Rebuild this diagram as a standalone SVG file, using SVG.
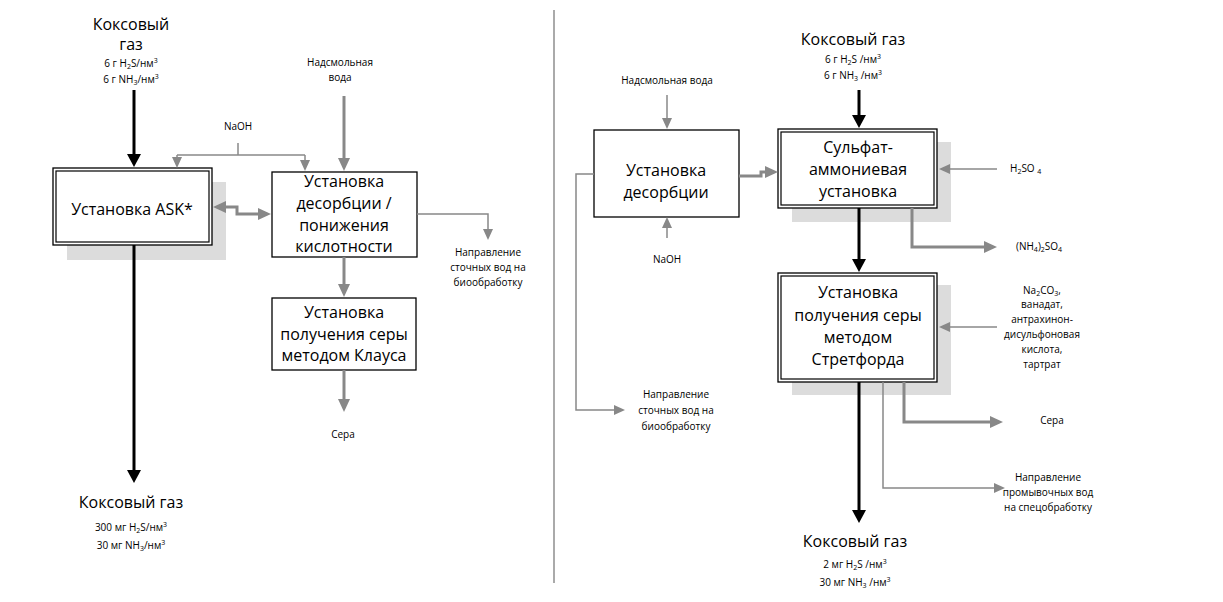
<svg xmlns="http://www.w3.org/2000/svg" width="1223" height="602" viewBox="0 0 1223 602">
<style>
text{font-family:"Open Sans","Noto Sans",sans-serif;fill:#000;text-anchor:middle}
.b{font-size:16px}
.s{font-size:10px}
.st{text-anchor:start}
.sb{font-size:7px}
.box{fill:#fff;stroke:#000;stroke-width:1.3}
.in{fill:none;stroke:#000;stroke-width:1.2}
.sh{fill:#dcdcdc}
.k{fill:none;stroke:#000;stroke-width:3}
.g{fill:none;stroke:#888;stroke-width:3}
.t{fill:none;stroke:#888;stroke-width:1.5}
</style>
<defs>
<marker id="mk" viewBox="0 0 13 14" refX="8" refY="7" markerWidth="13" markerHeight="14" markerUnits="userSpaceOnUse" orient="auto"><path d="M0,0 L13,7 L0,14 z" fill="#000"/></marker>
<marker id="mg" viewBox="0 0 13 12" refX="8" refY="6" markerWidth="13" markerHeight="12" markerUnits="userSpaceOnUse" orient="auto-start-reverse"><path d="M0,0 L13,6 L0,12 z" fill="#888"/></marker>
<marker id="mt" viewBox="0 0 11 10" refX="6" refY="5" markerWidth="11" markerHeight="10" markerUnits="userSpaceOnUse" orient="auto"><path d="M0,0 L11,5 L0,10 z" fill="#888"/></marker>
</defs>

<line x1="554" y1="10" x2="554" y2="583" stroke="#aaa" stroke-width="2"/>

<g id="left-gas-in">
<text class="b" x="131" y="30">Коксовый</text>
<text class="b" x="131" y="50">газ</text>
<text class="s" x="131" y="67">6 г H<tspan class="sb" dy="2">2</tspan><tspan dy="-2">S/нм</tspan><tspan class="sb" dy="-4">3</tspan></text>
<text class="s" x="131" y="83">6 г NH<tspan class="sb" dy="2">3</tspan><tspan dy="-2">/нм</tspan><tspan class="sb" dy="-4">3</tspan></text>
</g>

<g id="ask">
<rect class="sh" x="67" y="182" width="159" height="78"/>
<rect class="box" x="53" y="168" width="159" height="77"/>
<rect class="in" x="56" y="171" width="153" height="71"/>
<text class="b" x="132" y="215">Установка ASK*</text>
</g>

<g id="naoh-left"><text class="s" x="238" y="130">NaOH</text></g>

<g id="tar-water-left">
<text class="s" x="340" y="66">Надсмольная</text>
<text class="s" x="340" y="81">вода</text>
</g>

<g id="desorption-left">
<rect class="box" x="272" y="172" width="145" height="85"/>
<text class="b" x="344" y="187">Установка</text>
<text class="b" x="344" y="209">десорбции /</text>
<text class="b" x="344" y="231">понижения</text>
<text class="b" x="344" y="252">кислотности</text>
</g>

<g id="waste-left">
<text class="s" x="488" y="256">Направление</text>
<text class="s" x="488" y="271">сточных вод на</text>
<text class="s" x="488" y="286">биообработку</text>
</g>

<g id="claus">
<rect class="box" x="272" y="298" width="144" height="72"/>
<text class="b" x="344" y="318">Установка</text>
<text class="b" x="344" y="340">получения серы</text>
<text class="b" x="344" y="361">методом Клауса</text>
</g>

<g id="sulfur-left"><text class="s" x="343" y="438">Сера</text></g>

<g id="left-gas-out">
<text class="b" x="131" y="508">Коксовый газ</text>
<text class="s" x="131" y="531">300 мг H<tspan class="sb" dy="2">2</tspan><tspan dy="-2">S/нм</tspan><tspan class="sb" dy="-4">3</tspan></text>
<text class="s" x="131" y="549">30 мг NH<tspan class="sb" dy="2">3</tspan><tspan dy="-2">/нм</tspan><tspan class="sb" dy="-4">3</tspan></text>
</g>

<g id="right-gas-in">
<text class="b" x="853" y="45">Коксовый газ</text>
<text class="s" x="853" y="63">6 г H<tspan class="sb" dy="2">2</tspan><tspan dy="-2">S /нм</tspan><tspan class="sb" dy="-4">3</tspan></text>
<text class="s" x="853" y="79">6 г NH<tspan class="sb" dy="2">3</tspan><tspan dy="-2"> /нм</tspan><tspan class="sb" dy="-4">3</tspan></text>
</g>

<g id="tar-water-right"><text class="s" x="667" y="84">Надсмольная вода</text></g>

<g id="desorption-right">
<rect class="box" x="594" y="130" width="145" height="87"/>
<text class="b" x="666" y="176">Установка</text>
<text class="b" x="666" y="198">десорбции</text>
</g>

<g id="naoh-right"><text class="s" x="667" y="263">NaOH</text></g>

<g id="waste-right">
<text class="s" x="676" y="398">Направление</text>
<text class="s" x="676" y="414">сточных вод на</text>
<text class="s" x="676" y="430">биообработку</text>
</g>

<g id="sulfate">
<rect class="sh" x="792" y="142" width="159" height="80"/>
<rect class="box" x="778" y="129" width="159" height="79"/>
<rect class="in" x="781" y="132" width="153" height="73"/>
<text class="b" x="858" y="153">Сульфат-</text>
<text class="b" x="858" y="175">аммониевая</text>
<text class="b" x="858" y="197">установка</text>
</g>

<g id="h2so4"><text class="s st" x="1010" y="172">H<tspan class="sb" dy="2">2</tspan><tspan dy="-2">SO </tspan><tspan class="sb" dy="2">4</tspan></text></g>

<g id="ammonium-sulfate"><text class="s st" x="1016" y="250">(NH<tspan class="sb" dy="2">4</tspan><tspan dy="-2">)</tspan><tspan class="sb" dy="2">2</tspan><tspan dy="-2">SO</tspan><tspan class="sb" dy="2">4</tspan></text></g>

<g id="stretford">
<rect class="sh" x="792" y="285" width="159" height="110"/>
<rect class="box" x="778" y="273" width="159" height="109"/>
<rect class="in" x="781" y="276" width="153" height="103"/>
<text class="b" x="858" y="298">Установка</text>
<text class="b" x="858" y="321">получения серы</text>
<text class="b" x="858" y="343">методом</text>
<text class="b" x="858" y="365">Стретфорда</text>
</g>

<g id="reagents">
<text class="s" x="1042" y="294">Na<tspan class="sb" dy="2">2</tspan><tspan dy="-2">CO</tspan><tspan class="sb" dy="2">3</tspan><tspan dy="-2">,</tspan></text>
<text class="s" x="1042" y="308">ванадат,</text>
<text class="s" x="1042" y="323">антрахинон-</text>
<text class="s" x="1042" y="338">дисульфоновая</text>
<text class="s" x="1042" y="353">кислота,</text>
<text class="s" x="1042" y="368">тартрат</text>
</g>

<g id="sulfur-right"><text class="s" x="1052" y="424">Сера</text></g>

<g id="wash-water">
<text class="s" x="1048" y="481">Направление</text>
<text class="s" x="1048" y="496">промывочных вод</text>
<text class="s" x="1048" y="511">на спецобработку</text>
</g>

<g id="right-gas-out">
<text class="b" x="855" y="547">Коксовый газ</text>
<text class="s" x="855" y="568">2 мг H<tspan class="sb" dy="2">2</tspan><tspan dy="-2">S /нм</tspan><tspan class="sb" dy="-4">3</tspan></text>
<text class="s" x="855" y="586">30 мг NH<tspan class="sb" dy="2">3</tspan><tspan dy="-2"> /нм</tspan><tspan class="sb" dy="-4">3</tspan></text>
</g>

<g id="connectors">
<!-- left -->
<path class="k" d="M134,90 V162" marker-end="url(#mk)"/>
<path class="t" d="M238,143 V155"/>
<path class="t" d="M177,155 H305"/>
<path class="t" d="M177,155 V163" marker-end="url(#mt)"/>
<path class="t" d="M305,155 V166" marker-end="url(#mt)"/>
<path class="g" d="M344,96 V166" marker-end="url(#mg)"/>
<path class="g" d="M218,207 H237 V214 H266" marker-start="url(#mg)" marker-end="url(#mg)"/>
<path class="t" d="M417,214 H488 V235" marker-end="url(#mt)"/>
<path class="g" d="M344,257 V292" marker-end="url(#mg)"/>
<path class="g" d="M344,370 V407" marker-end="url(#mg)"/>
<path class="k" d="M134,245 V478" marker-end="url(#mk)"/>
<!-- right -->
<path class="k" d="M859,90 V123" marker-end="url(#mk)"/>
<path class="t" d="M667,95 V124" marker-end="url(#mt)"/>
<path class="t" d="M667,238 V222" marker-end="url(#mt)"/>
<path class="g" d="M739,176 H761 V172 H773" marker-end="url(#mg)"/>
<path class="t" d="M594,174 H576 V410 H620" marker-end="url(#mt)"/>
<path class="t" d="M997,169 H944" marker-end="url(#mt)"/>
<path class="g" d="M912,208 V247 H992" marker-end="url(#mg)"/>
<path class="k" d="M859,208 V267" marker-end="url(#mk)"/>
<path class="t" d="M997,327 H944" marker-end="url(#mt)"/>
<path class="g" d="M904,382 V422 H998" marker-end="url(#mg)"/>
<path class="t" d="M883,382 V488 H1000" marker-end="url(#mt)"/>
<path class="k" d="M859,382 V518" marker-end="url(#mk)"/>
</g>
</svg>
